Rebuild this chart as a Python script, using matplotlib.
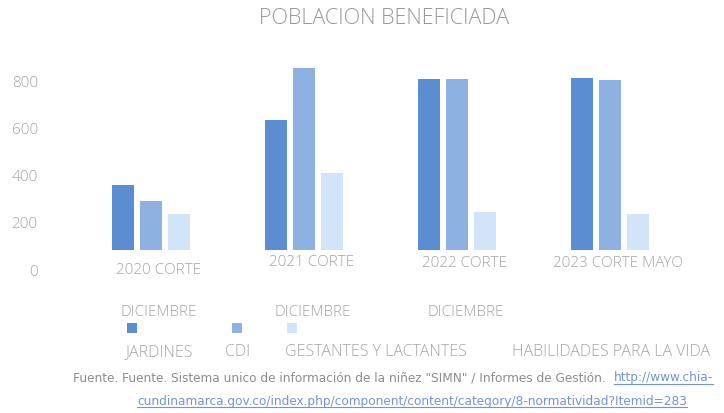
"""Poblacion beneficiada por programa y corte."""

import matplotlib
matplotlib.use("Agg")
import matplotlib.pyplot as plt
from matplotlib.patches import Rectangle
import numpy as np

# data
cortes = ["2020 CORTE", "2021 CORTE", "2022 CORTE", "2023 CORTE MAYO"]
cortes_linea2 = ["DICIEMBRE", "DICIEMBRE", "DICIEMBRE", ""]
series = ["JARDINES", "CDI", "GESTANTES Y LACTANTES", "HABILIDADES PARA LA VIDA"]
jardines = [360, 636, 808, 812]
cdi = [292, 855, 808, 805]
gestantes = [236, 412, 247, 236]
habilidades = [0, 0, 0, 0]
yticks = [0, 200, 400, 600, 800]

colors = ["#5b8dd2", "#8db2e1", "#d2e5f8", "#ffffff"]
txt = "#a4a4a4"
font = "Open Sans"
src_font = "DejaVu Sans"
link_c = "#7393d8"

W, H = 724, 413
fig = plt.figure(figsize=(W / 100, H / 100), dpi=100)

# axes placed in pixel terms
ax_l, ax_r, ax_b, ax_t = 60, 724, 270, 54
ax = fig.add_axes([ax_l / W, (H - ax_b) / H, (ax_r - ax_l) / W, (ax_b - ax_t) / H])

x = np.arange(len(cortes))
width = 0.144
pitch = 0.183
base = 85  # bars in the source sit above the zero line

for i, vals in enumerate([jardines, cdi, gestantes, habilidades]):
    vals = np.array(vals, dtype=float)
    ax.bar(x + (i - 1.28) * pitch, np.where(vals > 0, vals - base, 0), width,
           bottom=base, color=colors[i], linewidth=0)

ax.set_xlim(-0.647, 3.693)
ax.set_ylim(0, 915)
ax.set_yticks(yticks)
ax.set_yticklabels([str(v) for v in yticks], color=txt, fontsize=11,
                   family=font, fontweight="light")
ax.tick_params(axis="y", length=0, pad=16)
ax.set_xticks([])
for s in ax.spines.values():
    s.set_visible(False)

# category labels (first line sits on the zero line, second line far below)
label_y = [0, 30, 26, 26]
for k, lab in enumerate(cortes):
    ax.text(k, label_y[k], lab, ha="center", va="center", color=txt,
            fontsize=11, family=font, fontweight="light")
for k, lab in enumerate(cortes_linea2):
    if lab:
        fig.text((159 + 153.5 * k) / W, 1 - 312 / H, lab, ha="center",
                 va="center", color=txt, fontsize=11, family=font,
                 fontweight="light")

fig.text(384 / W, 1 - 18 / H, "POBLACION BENEFICIADA", ha="center",
         va="center", color="#979797", fontsize=15.5, family=font,
         fontweight="light")

# legend
marker_x = [132, 237, 292]
for mx, c in zip(marker_x, colors[:3]):
    fig.add_artist(Rectangle(((mx - 5) / W, 1 - 333 / H), 10 / W, 10 / H,
                             transform=fig.transFigure, color=c, lw=0))
label_x = [125, 225, 285, 512]
for lx, name in zip(label_x, series):
    fig.text(lx / W, 1 - 352 / H, name, ha="left", va="center", color=txt,
             fontsize=11.5, family=font, fontweight="light")

# source note
fig.text(73 / W, 1 - 378 / H,
         "Fuente. Fuente. Sistema unico de información de la niñez \"SIMN\" / "
         "Informes de Gestión.",
         ha="left", va="center", color="#8c8c8c", fontsize=8.7,
         family=src_font)
links = [
    fig.text(713 / W, 1 - 378 / H, "http://www.chia-", ha="right",
             va="center", color=link_c, fontsize=8.7, family=src_font),
    fig.text(412 / W, 1 - 401 / H,
             "cundinamarca.gov.co/index.php/component/content/category/"
             "8-normatividad?Itemid=283",
             ha="center", va="center", color=link_c, fontsize=8.7,
             family=src_font),
]
# underline the link pieces
fig.canvas.draw()
r = fig.canvas.get_renderer()
for t in links:
    bb = t.get_window_extent(r).transformed(fig.transFigure.inverted())
    fig.add_artist(plt.Line2D([bb.x0, bb.x1], [bb.y0 + 0.5 / H] * 2,
                              transform=fig.transFigure, color=link_c,
                              lw=0.8))

fig.savefig("out.png", dpi=100)
